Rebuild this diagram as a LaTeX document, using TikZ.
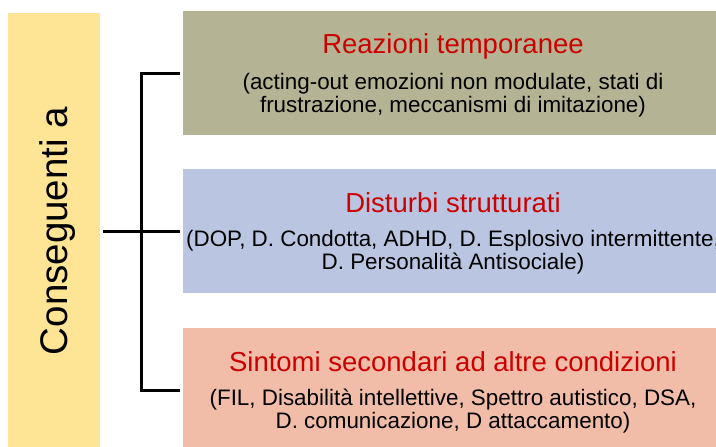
\documentclass[tikz,border=0pt]{standalone}
\usepackage{fontspec}
\setmainfont{Liberation Sans}
\usepackage{xcolor}
\usepackage{tikz}
\usetikzlibrary{positioning}

\definecolor{barYellow}{RGB}{254,229,150}
\definecolor{boxOlive}{RGB}{180,180,148}
\definecolor{boxBlue}{RGB}{186,198,225}
\definecolor{boxSalmon}{RGB}{241,189,168}
\definecolor{titleRed}{RGB}{204,0,0}

\tikzset{
  catbox/.style={rectangle, inner sep=0pt, minimum width=540pt, minimum height=124pt},
  cattitle/.style={text=titleRed, inner sep=0pt, anchor=base, font=\fontsize{27.5}{30}\selectfont},
  catbody/.style={align=center, inner sep=0pt, font=\fontsize{22.4}{23}\selectfont},
  bracket/.style={line width=3pt}
}

\begin{document}
\begin{tikzpicture}[x=1pt, y=-1pt]
\useasboundingbox (0,0) rectangle (716,447);

\node[rectangle, fill=barYellow, minimum width=92pt, minimum height=436pt, inner sep=0pt] (cbar) at (54,231) {};
\node[rotate=90, anchor=base, inner sep=0pt, font=\fontsize{38.5}{40}\selectfont] (cons) at (67,231) {Conseguenti a};

\node[catbox, fill=boxOlive] (r1) at (453,73) {};
\node[catbox, fill=boxBlue] (r2) at (453,231) {};
\node[catbox, fill=boxSalmon] (r3) at (453,390) {};

\node[cattitle] (t1) at (453,53) {Reazioni temporanee};
\node[catbody] (b1) at (453,95) {(acting-out emozioni non modulate, stati di\\frustrazione, meccanismi di imitazione)};

\node[cattitle] (t2) at (453,212) {Disturbi strutturati};
\node[catbody] (b2) at (453,252) {(DOP, D. Condotta, ADHD, D. Esplosivo intermittente,\\D. Personalità Antisociale)};

\node[cattitle] (t3) at (453,371) {Sintomi secondari ad altre condizioni};
\node[catbody] (b3) at (453,411) {(FIL, Disabilità intellettive, Spettro autistico, DSA,\\D. comunicazione, D attaccamento)};

\coordinate (spine) at (141,231);
\draw[bracket] ([xshift=-3pt]r1.west) -| (spine) |- ([xshift=-3pt]r3.west);
\draw[bracket] ([xshift=3pt]cbar.east) -- ([xshift=-3pt]r2.west);
\end{tikzpicture}
\end{document}
